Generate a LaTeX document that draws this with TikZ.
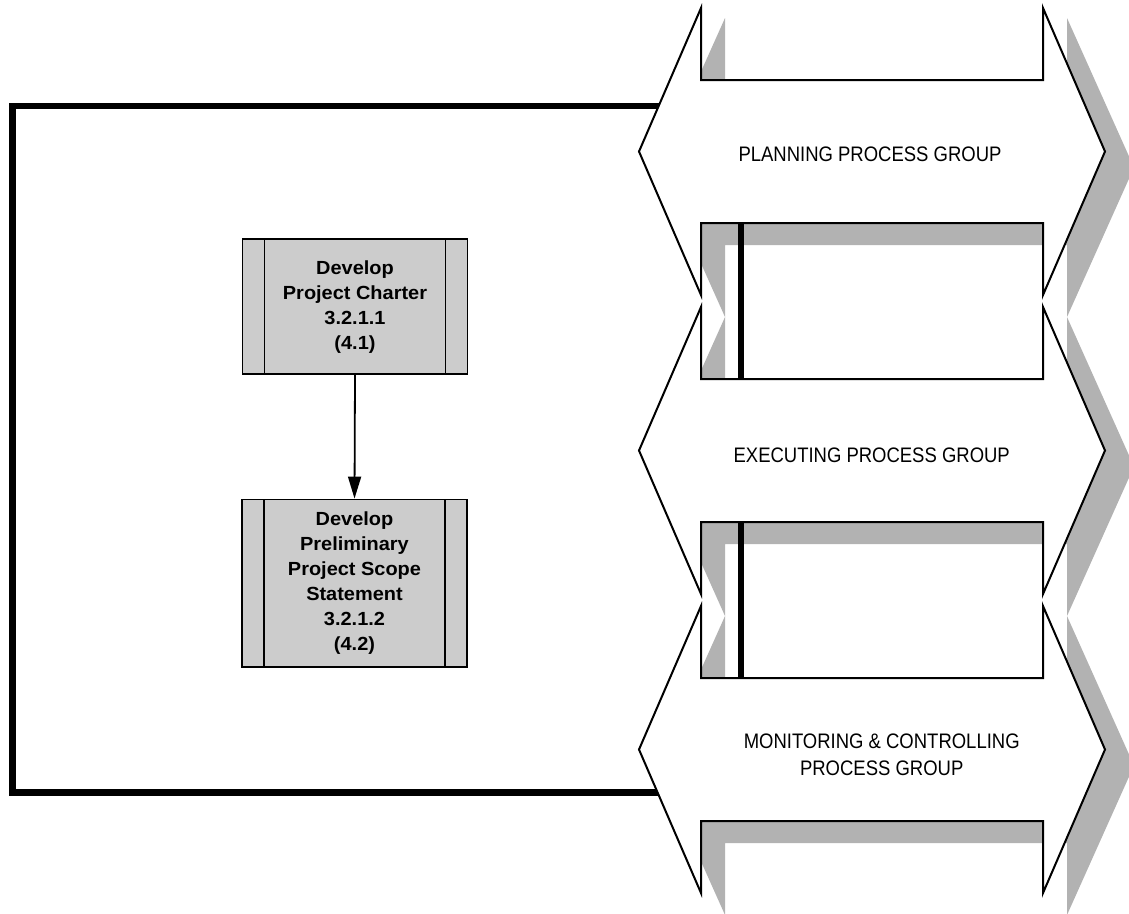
\documentclass[tikz,border=0pt]{standalone}
\usepackage{fontspec}
\usetikzlibrary{arrows.meta}
\newfontfamily\boxfont[FakeStretch=1.05]{Liberation Sans}
\newfontfamily\labfont[FakeStretch=0.88]{Liberation Sans}
\definecolor{shadowgray}{gray}{0.70}
\definecolor{boxgray}{gray}{0.80}
\begin{document}
\begin{tikzpicture}[x=1pt,y=-1pt,
  shadowshape/.style={fill=shadowgray, draw=none},
  bigarrow/.style={fill=white, draw=black, line width=2pt, line join=miter},
  frame/.style={draw=black, line width=6.7pt, line join=miter},
  procbox/.style={rectangle, draw=black, line width=1.8pt, fill=boxgray,
    minimum width=225pt, inner sep=0pt, align=center,
    font=\boxfont\bfseries\fontsize{19}{25}\selectfont,
    path picture={
      \draw[line width=1.8pt] ([xshift=22pt]path picture bounding box.north west) -- ([xshift=22pt]path picture bounding box.south west);
      \draw[line width=1.8pt] ([xshift=-22pt]path picture bounding box.north east) -- ([xshift=-22pt]path picture bounding box.south east);}},
  grouplabel/.style={align=center, inner sep=0pt, font=\labfont\fontsize{21}{27}\selectfont},
  flow/.style={-{Triangle[length=22pt,width=13pt]}, line width=1.8pt}
]
\useasboundingbox (0,0) rectangle (1129,913);
\clip (0,0) rectangle (1129,913);

% shadows of the three double arrows
\foreach \c in {151.5,450.5,749.5}{
  \fill[shadowshape] (658,\c+16) -- (725,\c-133.5) -- (725,\c-49.5) -- (1067,\c-49.5)
    -- (1067,\c-133.5) -- (1134,\c+16) -- (1067,\c+165.5) -- (1067,\c+93.5)
    -- (725,\c+93.5) -- (725,\c+165.5) -- cycle;
}

% big frame behind the arrows
\draw[frame] (12.7,106) rectangle (741,792.5);

% the three double arrows
\foreach \c in {151.5,450.5,749.5}{
  \draw[bigarrow] (639,\c) -- (701,\c-143.5) -- (701,\c-71.5) -- (1043,\c-71.5)
    -- (1043,\c-143.5) -- (1105,\c) -- (1043,\c+143.5) -- (1043,\c+71.5)
    -- (701,\c+71.5) -- (701,\c+143.5) -- cycle;
}

\node[grouplabel] (planning) at (870,154) {PLANNING PROCESS GROUP};
\node[grouplabel] (executing) at (871.7,455.5) {EXECUTING PROCESS GROUP};
\node[grouplabel] (monitoring) at (881.7,755) {MONITORING \& CONTROLLING\\PROCESS GROUP};

% process boxes
\node[procbox, minimum height=135pt] (charter) at (355,306.8)
  {Develop\\Project Charter\\3.2.1.1\\(4.1)};
\node[procbox, minimum height=167.5pt] (scope) at (354.5,583.2)
  {Develop\\Preliminary\\Project Scope\\Statement\\3.2.1.2\\(4.2)};
\draw[flow] (charter.south) -- (scope.north);
\end{tikzpicture}
\end{document}
